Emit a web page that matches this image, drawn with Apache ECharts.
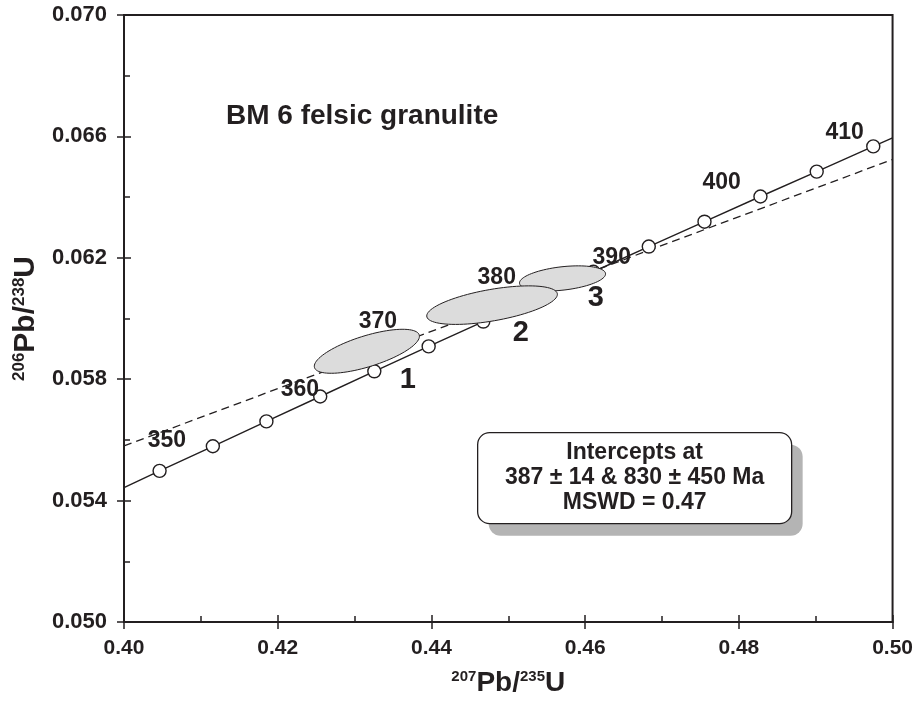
<!DOCTYPE html>
<html>
<head>
<meta charset="utf-8">
<script src="https://cdn.jsdelivr.net/npm/echarts@6/dist/echarts.min.js"></script>
<style>
  html, body { margin: 0; padding: 0; background: #fff; }
  #container_concordia { width: 916px; height: 702px; }
</style>
</head>
<body>
<div id="container_concordia"></div>
<script>
// Concordia points (every 5 Ma)
var concAges = [345, 350, 355, 360, 365, 370, 375, 380, 385, 390, 395, 400, 405, 410];
var concX = [0.40463, 0.41156, 0.41853, 0.42553, 0.43257, 0.43964, 0.44675, 0.45389, 0.46107, 0.46828, 0.47553, 0.48281, 0.49013, 0.49749];
var concY = [0.05498, 0.05579, 0.05661, 0.05743, 0.05826, 0.05908, 0.05990, 0.06072, 0.06154, 0.06237, 0.06319, 0.06402, 0.06484, 0.06567];
// where the concordia curve leaves the frame
var concStart = [0.40, 0.05443];
var concEnd = [0.50, 0.06595];

// Discordia (dashed) end points
var discX = [0.40, 0.50];
var discY = [0.0558, 0.06524];

// Error ellipses: centre x, centre y, sigma x, sigma y, rho
var ellCx = [0.43160, 0.44789, 0.45706];
var ellCy = [0.05892, 0.06044, 0.06132];
var ellSx = [0.00684, 0.00850, 0.00560];
var ellSy = [0.000725, 0.000635, 0.000415];
var ellRho = [0.68, 0.56, 0.36];

// Age labels and their positions
var ageText = ['350', '360', '370', '380', '390', '400', '410'];
var ageX = [0.40559, 0.42289, 0.43303, 0.44850, 0.46346, 0.47776, 0.49376];
var ageY = [0.05599, 0.05767, 0.05991, 0.06136, 0.06199, 0.06446, 0.06611];

// Spot numbers
var spotText = ['1', '2', '3'];
var spotX = [0.43693, 0.45163, 0.46138];
var spotY = [0.05797, 0.05952, 0.06067];

var fontMain = '"Liberation Sans", Arial, sans-serif';
var ink = '#231f20';

function pairs(xs, ys) {
    var res = [];
    for (var i = 0; i < xs.length; i++) res.push([xs[i], ys[i]]);
    return res;
}

var concLine = [concStart].concat(pairs(concX, concY)).concat([concEnd]);

var ellData = [];
for (var i = 0; i < ellCx.length; i++) {
    ellData.push([ellCx[i], ellCy[i], ellSx[i], ellSy[i], ellRho[i]]);
}

function textData(txt, xs, ys) {
    var res = [];
    for (var i = 0; i < txt.length; i++) res.push({ name: txt[i], value: [xs[i], ys[i]] });
    return res;
}

var chart = echarts.init(document.getElementById('container_concordia'));

var axisLineStyle = { color: ink, width: 2 };

var option = {
    animation: false,
    grid: {
        left: 124, right: 22, top: 15, bottom: 80,
        show: true, borderColor: ink, borderWidth: 2, backgroundColor: 'transparent'
    },
    title: {
        text: 'BM 6 felsic granulite',
        left: 226, top: 102, padding: 0,
        textStyle: { fontFamily: fontMain, fontWeight: 'bold', fontSize: 28, color: ink }
    },
    xAxis: [{
        type: 'value', position: 'bottom',
        min: 0.40, max: 0.50, interval: 0.02,
        axisLine: { onZero: false, lineStyle: axisLineStyle },
        axisTick: { inside: true, length: 7, lineStyle: { color: ink, width: 1.5 } },
        minorTick: { show: true, splitNumber: 2, length: 6, lineStyle: { color: ink, width: 1.5 } },
        splitLine: { show: false },
        axisLabel: {
            margin: 16, color: ink, fontFamily: fontMain, fontWeight: 'bold', fontSize: 21,
            formatter: function (v) { return v.toFixed(2); }
        },
        name: '{sup|207}{main|Pb/}{sup|235}{main|U}',
        nameLocation: 'middle', nameGap: 47,
        nameTextStyle: {
            color: ink, fontFamily: fontMain, fontWeight: 'bold',
            rich: {
                main: { fontSize: 28, fontWeight: 'bold', fontFamily: fontMain, color: ink },
                sup: { fontSize: 15, fontWeight: 'bold', fontFamily: fontMain, color: ink, verticalAlign: 'top', padding: [0, 0, 10, 0] }
            }
        }
    }, {
        type: 'value', position: 'bottom',
        min: 0.40, max: 0.50, interval: 0.02,
        axisLine: { show: false, onZero: false },
        axisTick: { inside: false, length: 7, lineStyle: { color: ink, width: 1.5 } },
        splitLine: { show: false },
        axisLabel: { show: false }
    }],
    yAxis: [{
        type: 'value', position: 'left',
        min: 0.050, max: 0.070, interval: 0.004,
        axisLine: { onZero: false, lineStyle: axisLineStyle },
        axisTick: { inside: true, length: 7, lineStyle: { color: ink, width: 1.5 } },
        minorTick: { show: true, splitNumber: 2, length: 6, lineStyle: { color: ink, width: 1.5 } },
        splitLine: { show: false },
        axisLabel: {
            margin: 17, color: ink, fontFamily: fontMain, fontWeight: 'bold', fontSize: 22,
            formatter: function (v) { return v.toFixed(3); }
        },
        name: '{sup|206}{main|Pb/}{sup|238}{main|U}',
        nameLocation: 'middle', nameGap: 82,
        nameTextStyle: {
            color: ink, fontFamily: fontMain, fontWeight: 'bold',
            rich: {
                main: { fontSize: 30, fontWeight: 'bold', fontFamily: fontMain, color: ink },
                sup: { fontSize: 17, fontWeight: 'bold', fontFamily: fontMain, color: ink, verticalAlign: 'top', padding: [0, 0, 10, 0] }
            }
        }
    }, {
        type: 'value', position: 'left',
        min: 0.050, max: 0.070, interval: 0.004,
        axisLine: { show: false, onZero: false },
        axisTick: { inside: false, length: 7, lineStyle: { color: ink, width: 1.5 } },
        splitLine: { show: false },
        axisLabel: { show: false }
    }],
    series: [
        {
            // discordia
            type: 'line', data: pairs(discX, discY), showSymbol: false, symbol: 'none',
            lineStyle: { color: ink, width: 1.3, type: [8, 5] }, z: 2
        },
        {
            // concordia curve
            type: 'line', data: concLine, showSymbol: false, symbol: 'none',
            lineStyle: { color: ink, width: 1.4 }, z: 3
        },
        {
            // concordia age points
            type: 'scatter', data: pairs(concX, concY), symbol: 'circle', symbolSize: 13,
            itemStyle: { color: '#fff', borderColor: ink, borderWidth: 1.4, opacity: 1 }, z: 4
        },
        {
            // error ellipses
            type: 'custom', data: ellData, z: 5,
            renderItem: function (params, api) {
                var cx = api.value(0), cy = api.value(1), sx = api.value(2), sy = api.value(3), rho = api.value(4);
                var pts = [];
                for (var k = 0; k < 90; k++) {
                    var t = k / 90 * Math.PI * 2;
                    pts.push(api.coord([
                        cx + sx * Math.cos(t),
                        cy + sy * (rho * Math.cos(t) + Math.sqrt(1 - rho * rho) * Math.sin(t))
                    ]));
                }
                return {
                    type: 'polygon',
                    z2: params.dataIndex === 1 ? 10 : 1,
                    shape: { points: pts },
                    style: { fill: '#dcdcdc', stroke: ink, lineWidth: 1 }
                };
            }
        },
        {
            // age labels
            type: 'scatter', data: textData(ageText, ageX, ageY), symbolSize: 1,
            itemStyle: { color: 'rgba(0,0,0,0)', opacity: 1 }, z: 6,
            label: {
                show: true, position: 'inside', formatter: '{b}',
                color: ink, fontFamily: fontMain, fontWeight: 'bold', fontSize: 23
            }
        },
        {
            // spot numbers
            type: 'scatter', data: textData(spotText, spotX, spotY), symbolSize: 1,
            itemStyle: { color: 'rgba(0,0,0,0)', opacity: 1 }, z: 6,
            label: {
                show: true, position: 'inside', formatter: '{b}',
                color: ink, fontFamily: fontMain, fontWeight: 'bold', fontSize: 29
            }
        }
    ],
    graphic: [{
        type: 'group', left: 477, top: 432, z: 10,
        children: [
            { type: 'rect', shape: { x: 11, y: 12, width: 314, height: 91, r: 12 }, style: { fill: '#b4b4b4' } },
            { type: 'rect', shape: { x: 0, y: 0, width: 314, height: 91, r: 12 }, style: { fill: '#fff', stroke: ink, lineWidth: 1.3 } },
            {
                type: 'text', x: 157, y: 45,
                style: {
                    text: 'Intercepts at\n387 ± 14 & 830 ± 450 Ma\nMSWD = 0.47',
                    align: 'center', verticalAlign: 'middle', lineHeight: 25,
                    fontFamily: fontMain, fontWeight: 'bold', fontSize: 23, fill: ink
                }
            }
        ]
    }]
};

chart.setOption(option);
</script>
</body>
</html>
